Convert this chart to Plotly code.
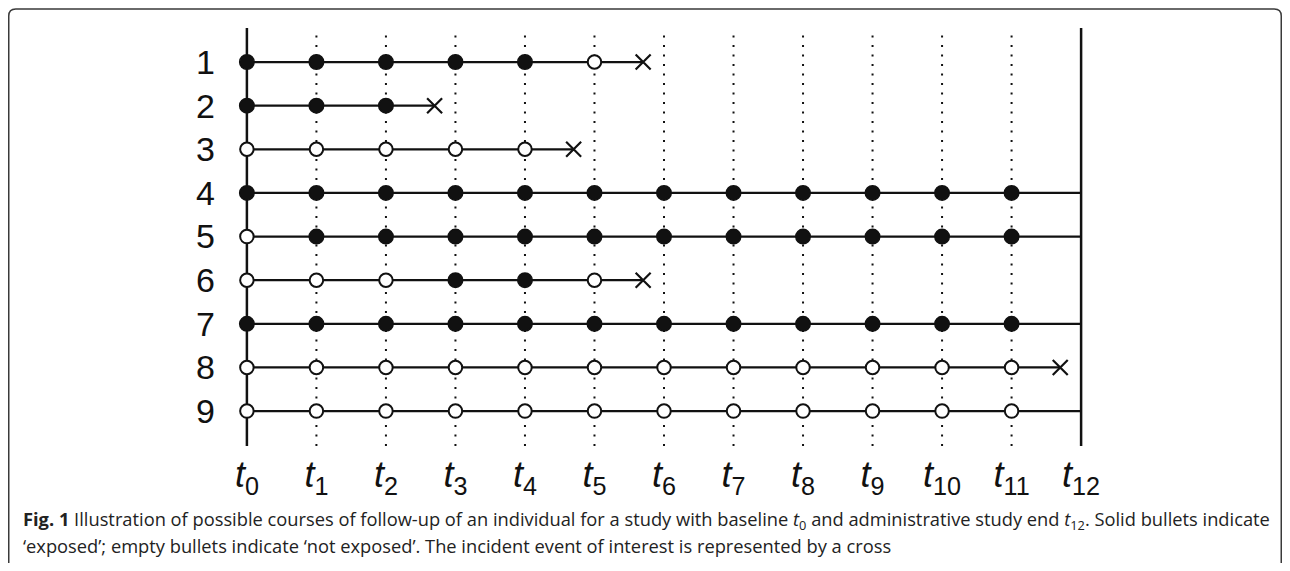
import plotly.graph_objects as go

# ---------------- data ----------------
times = list(range(13))
tick_labels = [f"<i>t</i><sub>{k}</sub>" for k in times]
rows = [1, 2, 3, 4, 5, 6, 7, 8, 9]
row_labels = [str(r) for r in rows]
# exposure status at t0, t1, ... (F = exposed / solid, O = not exposed / empty)
exposure = [
    "FFFFFO",
    "FFF",
    "OOOOO",
    "FFFFFFFFFFFF",
    "OFFFFFFFFFFF",
    "OOOFFO",
    "FFFFFFFFFFFF",
    "OOOOOOOOOOOO",
    "OOOOOOOOOOOO",
]
event_time = [5.7, 2.7, 4.7, None, None, 5.7, None, 11.7, None]
study_end = 12

caption1 = ("<b>Fig. 1</b> Illustration of possible courses of follow-up of an individual for a study with baseline "
            "<i>t</i><sub>0</sub> and administrative study end <i>t</i><sub>12</sub>. Solid bullets indicate")
caption2 = "‘exposed’; empty bullets indicate ‘not exposed’. The incident event of interest is represented by a cross"

# ---------------- layout geometry ----------------
# page has an 8px body margin, so figure coordinates = reference pixels - 8
OFF = 8
W, H = 1290 - 2 * OFF, 571 - 2 * OFF
L, R, T, B = 233, 1095, 28, 446   # plot area in reference pixels

def px_x(p):
    return (p - L) / (R - L)

def px_y(p):
    return (B - p) / (B - T)

fig = go.Figure()

# horizontal follow-up lines
for r, ev in zip(rows, event_time):
    end = ev if ev is not None else study_end
    fig.add_trace(go.Scatter(x=[0, end], y=[r, r], mode="lines",
                             line=dict(color="#111111", width=2.2),
                             hoverinfo="skip", showlegend=False, cliponaxis=False))

# bullets
fx, fy, ox, oy = [], [], [], []
for r, seq in zip(rows, exposure):
    for k, s in enumerate(seq):
        if s == "F":
            fx.append(times[k]); fy.append(r)
        else:
            ox.append(times[k]); oy.append(r)

fig.add_trace(go.Scatter(x=ox, y=oy, mode="markers",
                         marker=dict(symbol="circle", size=13.5, color="white",
                                     line=dict(color="#111111", width=2)),
                         showlegend=False, cliponaxis=False))
fig.add_trace(go.Scatter(x=fx, y=fy, mode="markers",
                         marker=dict(symbol="circle", size=14.5, color="#111111",
                                     line=dict(color="#111111", width=1.5)),
                         showlegend=False, cliponaxis=False))

# crosses (incident events)
cx = [e for e in event_time if e is not None]
cy = [r for r, e in zip(rows, event_time) if e is not None]
fig.add_trace(go.Scatter(x=cx, y=cy, mode="markers",
                         marker=dict(symbol="x-thin-open", size=15, color="#111111",
                                     line=dict(color="#111111", width=2.2)),
                         showlegend=False, cliponaxis=False))

# vertical reference lines
for t in times:
    if t in (0, study_end):
        fig.add_shape(type="line", xref="x", yref="paper", x0=t, x1=t, y0=0, y1=1,
                      line=dict(color="#111111", width=2.5), layer="below")
    else:
        fig.add_shape(type="line", xref="x", yref="paper", x0=t, x1=t, y0=0, y1=1,
                      line=dict(color="#111111", width=2, dash="2px,7.5px"), layer="below")

# rounded frame (open at bottom)
x0, x1 = px_x(OFF + 0.75), px_x(OFF + W - 0.75)
yt, yb = px_y(OFF + 1), px_y(700)
rx, ry = 7 / (R - L), 7 / (B - T)
path = (f"M {x0} {yb} L {x0} {yt - ry} Q {x0} {yt} {x0 + rx} {yt} "
        f"L {x1 - rx} {yt} Q {x1} {yt} {x1} {yt - ry} L {x1} {yb}")
fig.add_shape(type="path", xref="paper", yref="paper", path=path,
              line=dict(color="#3a3a3a", width=1.5))

# caption
cap_font = dict(family="Open Sans, Noto Sans, sans-serif", size=18.3, color="#222222")
fig.add_annotation(text=caption1, xref="paper", yref="paper", x=px_x(21), y=px_y(520),
                   xanchor="left", yanchor="middle", showarrow=False, font=cap_font, align="left")
fig.add_annotation(text=caption2, xref="paper", yref="paper", x=px_x(21), y=px_y(545.5),
                   xanchor="left", yanchor="middle", showarrow=False, font=cap_font, align="left")

fig.update_layout(
    width=W, height=H,
    margin=dict(l=L - OFF, r=W - (R - OFF), t=T - OFF, b=H - (B - OFF), pad=0),
    paper_bgcolor="white", plot_bgcolor="white",
    xaxis=dict(range=[-0.2, 12.2], tickvals=times, ticktext=tick_labels,
               showgrid=False, zeroline=False, showline=False, ticks="",
               ticklabelstandoff=4,
               tickfont=dict(family="Liberation Sans, Arial, sans-serif", size=36, color="#111111"),
               fixedrange=True),
    yaxis=dict(range=[9.80, 0.22], tickvals=rows, ticktext=row_labels,
               showgrid=False, zeroline=False, showline=False, ticks="",
               ticklabelstandoff=17,
               tickfont=dict(family="Liberation Sans, Arial, sans-serif", size=34, color="#111111"),
               fixedrange=True),
    showlegend=False,
)

fig.write_html("out.html")
